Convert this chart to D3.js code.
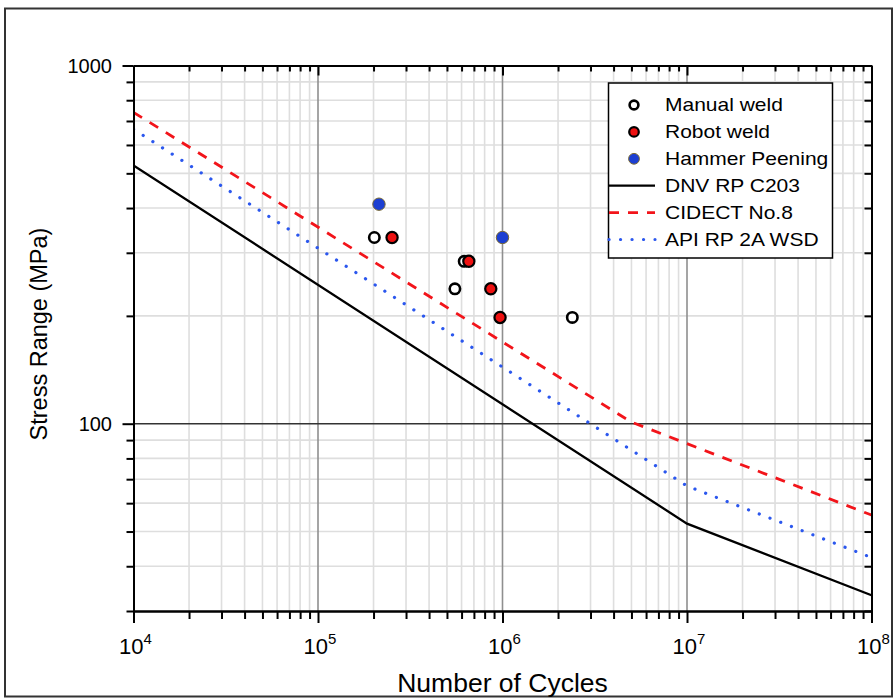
<!DOCTYPE html>
<html>
<head>
<meta charset="utf-8">
<script src="https://cdn.jsdelivr.net/npm/d3@7"></script>
<style>
  body { margin: 0; background: #fff; }
  svg { display: block; }
  text { font-family: Arial, "Liberation Sans", sans-serif; fill: #000; }
</style>
</head>
<body>
<svg id="chart" width="893" height="699"></svg>
<script>
// Test results (cycles to failure, stress range in MPa)
const manualN = [2.02e5, 5.52e5, 6.2e5, 2.39e6];
const manualS = [331, 238, 284, 198];
const robotN  = [2.52e5, 6.57e5, 8.64e5, 9.7e5];
const robotS  = [331, 284, 238, 198];
const hammerN = [2.14e5, 1.0e6];
const hammerS = [410, 331];

// Design S-N curves (vertices of the bilinear log-log curves)
const dnvN    = [1e4, 1e7, 1e8];
const dnvS    = [526, 52.6, 33.2];
const cidectN = [1e4, 5e6, 1e8];
const cidectS = [740, 101, 55.6];
const apiN    = [1e4, 1e7, 1e8];
const apiS    = [664, 67, 42.3];

// Axis ticks and legend
const xMajor = [1e4, 1e5, 1e6, 1e7, 1e8];
const xExp   = ["4", "5", "6", "7", "8"];
const yMajor = [100, 1000];
const yLabels = ["100", "1000"];
const legendLabels = ["Manual weld", "Robot weld", "Hammer Peening", "DNV RP C203", "CIDECT No.8", "API RP 2A WSD"];

const svg = d3.select("#chart");
const L = 133.5, R = 871.5, T = 65.5, B = 611;

const x = d3.scaleLog().domain([1e4, 1e8]).range([L, R]);
const y = d3.scaleLog().domain([30, 1000]).range([B, T]);

// minor tick values
const xMinor = [];
for (let d = 1e4; d < 1e8; d *= 10) for (let k = 2; k <= 9; k++) xMinor.push(k * d);
const yMinor = [];
[10, 100].forEach(d => { for (let k = (d === 10 ? 3 : 2); k <= 9; k++) yMinor.push(k * d); });
const yMinorGrid = yMinor.filter(v => v > 30);

// outer frame
svg.append("rect").attr("x", 5).attr("y", 8.5).attr("width", 887).attr("height", 688)
  .attr("fill", "none").attr("stroke", "#333").attr("stroke-width", 2);

// grid
const grid = svg.append("g");
grid.selectAll(".gxm").data(xMinor.filter(v => v > 1e4)).join("line")
  .attr("x1", d => x(d)).attr("x2", d => x(d)).attr("y1", T).attr("y2", B)
  .attr("stroke", "#dedede").attr("stroke-width", 1.6);
grid.selectAll(".gym").data(yMinorGrid).join("line")
  .attr("x1", L).attr("x2", R).attr("y1", d => y(d)).attr("y2", d => y(d))
  .attr("stroke", "#dedede").attr("stroke-width", 1.6);
grid.selectAll(".gxM").data(xMajor.slice(1, -1)).join("line")
  .attr("x1", d => x(d)).attr("x2", d => x(d)).attr("y1", T).attr("y2", B)
  .attr("stroke", "#8f8f8f").attr("stroke-width", 1.6);
grid.append("line").attr("x1", L).attr("x2", R).attr("y1", y(100)).attr("y2", y(100))
  .attr("stroke", "#333").attr("stroke-width", 1.4);

// clip for curves
svg.append("clipPath").attr("id", "plotclip").append("rect")
  .attr("x", L).attr("y", T).attr("width", R - L).attr("height", B - T);

const zip = (ns, ss) => ns.map((n, i) => ({ n, s: ss[i] }));
const line = d3.line().x(d => x(d.n)).y(d => y(d.s));
const curves = svg.append("g").attr("clip-path", "url(#plotclip)");

const styles = {
  dnv:    { stroke: "#000", width: 2.3, dash: null, cap: "butt" },
  cidect: { stroke: "#f2141a", width: 2.8, dash: "10 9", cap: "butt" },
  api:    { stroke: "#2b57ee", width: 3.2, dash: "0.1 11.4", cap: "round" }
};
function drawCurve(data, st) {
  const p = curves.append("path").attr("d", line(data)).attr("fill", "none")
    .attr("stroke", st.stroke).attr("stroke-width", st.width).attr("stroke-linecap", st.cap);
  if (st.dash) p.attr("stroke-dasharray", st.dash);
}
drawCurve(zip(dnvN, dnvS), styles.dnv);
drawCurve(zip(cidectN, cidectS), styles.cidect);
drawCurve(zip(apiN, apiS), styles.api);

// test points
const marks = {
  manual: { fill: "#fff", stroke: "#000", sw: 2.6, r: 5.2 },
  robot:  { fill: "#ee1111", stroke: "#000", sw: 2.2, r: 5.6 },
  hammer: { fill: "#1c3fd2", stroke: "#7a6a35", sw: 1, r: 6.2 }
};
function drawPoints(ns, ss, m) {
  svg.append("g").selectAll("circle").data(zip(ns, ss)).join("circle")
    .attr("cx", d => x(d.n)).attr("cy", d => y(d.s)).attr("r", m.r)
    .attr("fill", m.fill).attr("stroke", m.stroke).attr("stroke-width", m.sw);
}
drawPoints(manualN, manualS, marks.manual);
drawPoints(robotN, robotS, marks.robot);
drawPoints(hammerN, hammerS, marks.hammer);

// axes
function styleAxis(g) {
  g.selectAll("path.domain").attr("stroke", "#000").attr("stroke-width", 2);
  g.selectAll(".tick line").attr("stroke", "#000").attr("stroke-width", 2);
  g.selectAll(".tick text").remove();
}
const ax = svg.append("g");
ax.append("g").attr("transform", `translate(0,${B})`)
  .call(d3.axisBottom(x).tickValues(xMinor).tickSize(8).tickSizeOuter(0).tickFormat("")).call(styleAxis);
ax.append("g").attr("transform", `translate(0,${B})`)
  .call(d3.axisBottom(x).tickValues(xMajor).tickSize(12).tickSizeOuter(0).tickFormat("")).call(styleAxis);
ax.append("g").attr("transform", `translate(0,${T})`)
  .call(d3.axisBottom(x).tickValues(xMinor).tickSize(6).tickSizeOuter(0).tickFormat("")).call(styleAxis);
ax.append("g").attr("transform", `translate(0,${T})`)
  .call(d3.axisBottom(x).tickValues(xMajor).tickSize(10).tickSizeOuter(0).tickFormat("")).call(styleAxis);
ax.append("g").attr("transform", `translate(${L},0)`)
  .call(d3.axisLeft(y).tickValues(yMinor).tickSize(7).tickSizeOuter(0).tickFormat("")).call(styleAxis);
ax.append("g").attr("transform", `translate(${L},0)`)
  .call(d3.axisLeft(y).tickValues(yMajor).tickSize(11).tickSizeOuter(0).tickFormat("")).call(styleAxis);
ax.append("g").attr("transform", `translate(${R},0)`)
  .call(d3.axisLeft(y).tickValues(yMinor).tickSize(7).tickSizeOuter(0).tickFormat("")).call(styleAxis);

// x tick labels as powers of ten
xMajor.forEach((v, i) => {
  const t = svg.append("text").attr("x", x(v) + 2).attr("y", 654)
    .attr("text-anchor", "middle").attr("font-size", 22);
  t.append("tspan").text("10");
  t.append("tspan").attr("dy", -10).attr("font-size", 15).text(xExp[i]);
});
// y tick labels
yMajor.forEach((v, i) => {
  svg.append("text").attr("x", 112).attr("y", y(v) + 7)
    .attr("text-anchor", "end").attr("font-size", 20).text(yLabels[i]);
});

// axis titles
svg.append("text").attr("x", (L + R) / 2).attr("y", 692).attr("text-anchor", "middle")
  .attr("font-size", 26.5).text("Number of Cycles");
svg.append("text").attr("transform", "translate(47,334) rotate(-90)").attr("text-anchor", "middle")
  .attr("font-size", 23.5).text("Stress Range (MPa)");

// legend
const lg = svg.append("g");
lg.append("rect").attr("x", 608.5).attr("y", 83).attr("width", 224).attr("height", 175)
  .attr("fill", "#fff").attr("stroke", "#000").attr("stroke-width", 1.5);
const rowY = i => 105 + i * 26.9;
const legendMarks = [marks.manual, marks.robot, marks.hammer];
legendMarks.forEach((m, i) => {
  lg.append("circle").attr("cx", 634).attr("cy", rowY(i)).attr("r", m.r - 0.8)
    .attr("fill", m.fill).attr("stroke", m.stroke).attr("stroke-width", m.sw);
});
[styles.dnv, styles.cidect, styles.api].forEach((st, j) => {
  const p = lg.append("line").attr("x1", 609).attr("x2", 655)
    .attr("y1", rowY(3 + j)).attr("y2", rowY(3 + j))
    .attr("stroke", st.stroke).attr("stroke-width", st.width).attr("stroke-linecap", st.cap);
  if (st.dash) p.attr("stroke-dasharray", st.dash);
});
legendLabels.forEach((s, i) => {
  lg.append("text").attr("transform", `translate(665,${rowY(i) + 6}) scale(1.2,1)`)
    .attr("font-size", 17.5).text(s);
});
</script>
</body>
</html>
